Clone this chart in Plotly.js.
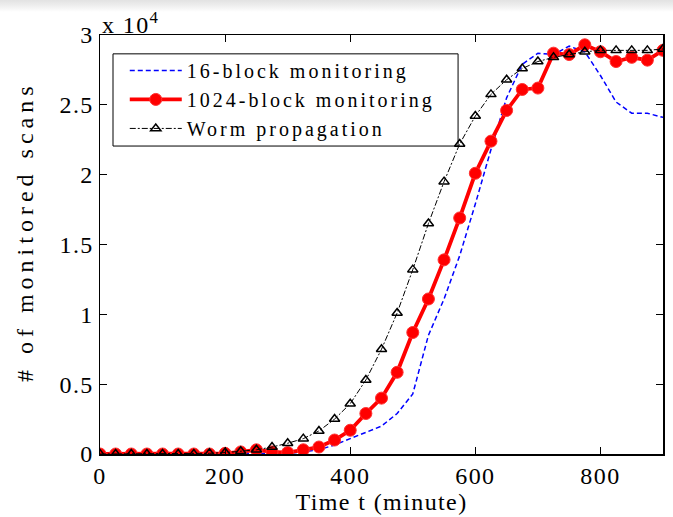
<!DOCTYPE html>
<html>
<head>
<meta charset="utf-8">
<script src="https://cdn.plot.ly/plotly-3.0.1.min.js"></script>
<style>
  html, body { margin: 0; padding: 0; }
  body { background: linear-gradient(to bottom, #e2e2e2 0px, #efefef 6px, #ffffff 12px); }
  #chart { width: 673px; height: 517px; }
  svg text { letter-spacing: 1.4px; }
  .legendtext { letter-spacing: 3px; }
</style>
</head>
<body>
<div id="chart"></div>
<script>
// Time (minutes), sampled every 25 minutes
const timeMin = [0,25,50,75,100,125,150,175,200,225,250,275,300,325,350,375,400,425,450,475,500,525,550,575,600,625,650,675,700,725,750,775,800,825,850,875,900];

// # of monitored scans, in units of 10^4
const block16 = [0,0,0,0,0,0,0,0,0,0,0,0,0.005,0.015,0.03,0.065,0.11,0.15,0.20,0.29,0.43,0.85,1.11,1.42,1.79,2.18,2.55,2.79,2.87,2.86,2.92,2.88,2.71,2.52,2.44,2.44,2.41];
const block1024 = [0,0,0,0,0,0,0,0,0.005,0.015,0.03,0.015,0.01,0.03,0.05,0.10,0.17,0.29,0.40,0.585,0.87,1.11,1.39,1.69,2.01,2.24,2.46,2.61,2.62,2.87,2.86,2.93,2.88,2.81,2.84,2.82,2.89];
const worm = [0,0,0,0,0,0,0,0.005,0.01,0.02,0.03,0.05,0.077,0.11,0.165,0.25,0.36,0.53,0.75,1.01,1.32,1.65,1.95,2.22,2.42,2.575,2.68,2.76,2.81,2.84,2.86,2.88,2.89,2.89,2.89,2.89,2.90];

const seriesNames = ["16-block monitoring", "1024-block monitoring", "Worm propagation"];
const yTickVals = [0, 0.5, 1, 1.5, 2, 2.5, 3];
const yTickText = ["0", "0.5", "1", "1.5", "2", "2.5", "3"];
const xTickVals = [0, 200, 400, 600, 800];
const xTitle = "Time t (minute)";
const yTitle = "# of monitored scans";
const scaleNote = "x 10<sup>4</sup>";

const FONT = "Liberation Serif, Times New Roman, serif";

const traces = [
  {
    x: timeMin, y: block16, name: seriesNames[0], type: "scatter", mode: "lines",
    line: { color: "#0000ff", width: 1.5, dash: "5px,3px" }
  },
  {
    x: timeMin, y: block1024, name: seriesNames[1], type: "scatter", mode: "lines+markers",
    line: { color: "#ff0000", width: 3.8 },
    marker: { symbol: "circle", size: 12, color: "#ff0000", line: { color: "#ff3030", width: 1 } }
  },
  {
    x: timeMin, y: worm, name: seriesNames[2], type: "scatter", mode: "lines+markers",
    line: { color: "#000000", width: 1, dash: "6px,2px,2px,2px" },
    marker: { symbol: "triangle-up-open", size: 9, color: "#000000", line: { width: 1.5, color: "#000000" } }
  }
];

const axisCommon = {
  showgrid: false, zeroline: false,
  showline: true, linecolor: "#000", linewidth: 1.5,
  mirror: "ticks", ticks: "inside", ticklen: 7, tickwidth: 1, tickcolor: "#000",
  tickfont: { family: FONT, size: 24, color: "#000" }
};

const layout = {
  width: 673, height: 517,
  margin: { l: 100, r: 10, t: 35, b: 63 },
  paper_bgcolor: "rgba(0,0,0,0)",
  plot_bgcolor: "#ffffff",
  showlegend: true,
  font: { family: FONT, size: 24, color: "#000" },
  xaxis: Object.assign({}, axisCommon, {
    range: [0, 900], tickvals: xTickVals, ticktext: xTickVals.map(String),
    title: { text: xTitle, font: { family: FONT, size: 24, color: "#000" }, standoff: 4 }
  }),
  yaxis: Object.assign({}, axisCommon, {
    range: [0, 3], tickvals: yTickVals, ticktext: yTickText
  }),
  legend: {
    x: 0.044, y: 0.962, xanchor: "left", yanchor: "top",
    bgcolor: "rgba(0,0,0,0)", borderwidth: 0,
    font: { family: FONT, size: 20, color: "#000" },
    itemwidth: 52, tracegroupgap: 0
  },
  shapes: [{
    type: "rect", xref: "paper", yref: "paper", layer: "below",
    x0: 0.0231, x1: 0.636, y0: 0.735, y1: 0.955,
    line: { color: "#000", width: 1 }, fillcolor: "#ffffff"
  }],
  annotations: [
    {
      xref: "paper", yref: "paper", x: 0, y: 1, xanchor: "left", yanchor: "bottom",
      text: scaleNote, showarrow: false, yshift: -5,
      font: { family: FONT, size: 24, color: "#000" }
    },
    {
      xref: "paper", yref: "paper", x: -0.133, y: 0.53, xanchor: "center", yanchor: "middle",
      text: "<span style='letter-spacing:5px'>" + yTitle + "</span>", showarrow: false, textangle: -90,
      font: { family: FONT, size: 24, color: "#000" }
    }
  ]
};

Plotly.newPlot("chart", traces, layout, { displayModeBar: false, staticPlot: true });
</script>
</body>
</html>
